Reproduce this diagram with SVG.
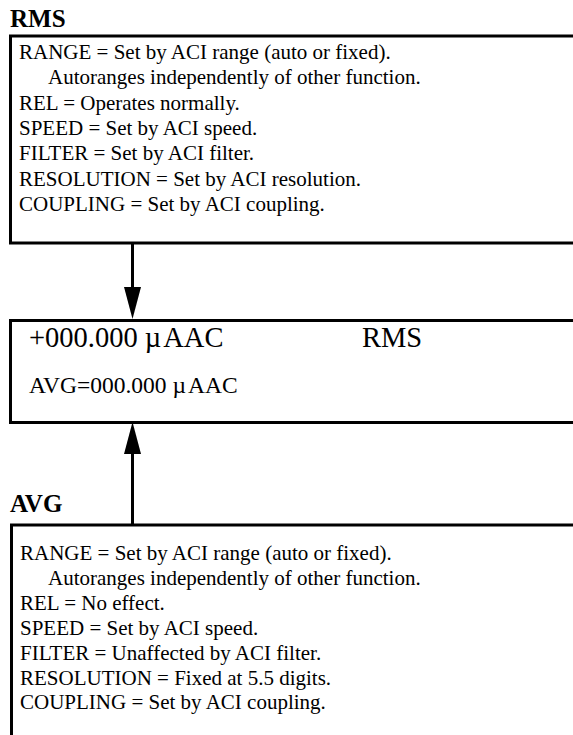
<svg xmlns="http://www.w3.org/2000/svg" width="573" height="735" viewBox="0 0 573 735">
<style>
.box{fill:none;stroke:#000;stroke-width:3}
.t{font-family:"Liberation Serif","Times New Roman",serif;font-size:21px;fill:#000}
.h{font-family:"Liberation Serif","Times New Roman",serif;font-size:25px;font-weight:bold;fill:#000}
.big{font-family:"Liberation Serif","Times New Roman",serif;font-size:28.5px;fill:#000}
.mid{font-family:"Liberation Serif","Times New Roman",serif;font-size:23.5px;fill:#000}
.ln{stroke:#000;stroke-width:3;fill:none}
</style>
<rect width="573" height="735" fill="#fff"/>
<g id="rms">
<text class="h" x="10" y="27">RMS</text>
<rect class="box" x="10.5" y="36" width="600" height="207"/>
<text class="t" x="19" y="59">RANGE = Set by ACI range (auto or fixed).</text>
<text class="t" x="48" y="84.3">Autoranges independently of other function.</text>
<text class="t" x="19" y="109.6">REL = Operates normally.</text>
<text class="t" x="19" y="134.9">SPEED = Set by ACI speed.</text>
<text class="t" x="19" y="160.2">FILTER = Set by ACI filter.</text>
<text class="t" x="19" y="185.5">RESOLUTION = Set by ACI resolution.</text>
<text class="t" x="19" y="210.8">COUPLING = Set by ACI coupling.</text>
</g>
<g id="display">
<rect class="box" x="10.5" y="320.5" width="600" height="102"/>
<text class="big" x="29" y="347">+000.000 µ<tspan dx="2">AAC</tspan></text>
<text class="big" x="362" y="347">RMS</text>
<text class="mid" x="29" y="393">AVG=000.000 µ<tspan dx="2">AAC</tspan></text>
</g>
<g id="avg">
<text class="h" x="10" y="512">AVG</text>
<path class="box" d="M11.5 740 V525 H600"/>
<text class="t" x="20" y="560">RANGE = Set by ACI range (auto or fixed).</text>
<text class="t" x="48" y="585">Autoranges independently of other function.</text>
<text class="t" x="20" y="610">REL = No effect.</text>
<text class="t" x="20" y="635">SPEED = Set by ACI speed.</text>
<text class="t" x="20" y="660">FILTER = Unaffected by ACI filter.</text>
<text class="t" x="20" y="684.5">RESOLUTION = Fixed at 5.5 digits.</text>
<text class="t" x="20" y="709">COUPLING = Set by ACI coupling.</text>
</g>
<g id="connectors">
<line class="ln" x1="132.5" y1="244" x2="132.5" y2="292"/>
<polygon points="124,287 141,287 132.5,319" fill="#000"/>
<line class="ln" x1="132.5" y1="450" x2="132.5" y2="524"/>
<polygon points="124,454 141,454 132.5,422" fill="#000"/>
</g>
</svg>
